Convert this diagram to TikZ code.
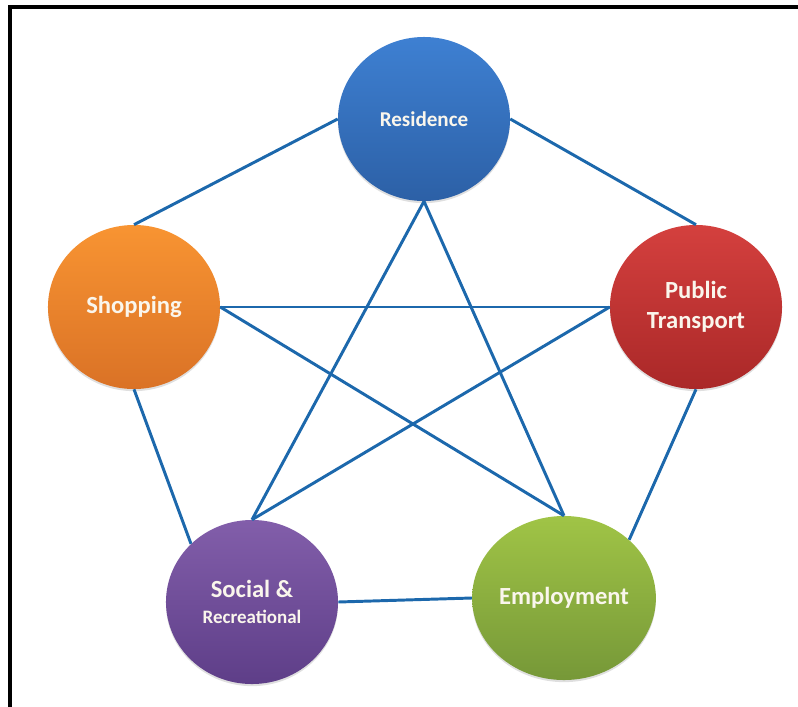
\documentclass[tikz,border=0pt]{standalone}
\usepackage{fontspec}
\setmainfont{Carlito}
\usepackage{tikz}
\usetikzlibrary{shapes.geometric}
\usetikzlibrary{shadows}

\definecolor{linkblue}{RGB}{28,104,172}
\definecolor{resA}{RGB}{62,128,210}
\definecolor{resB}{RGB}{44,96,166}
\definecolor{shopA}{RGB}{248,148,50}
\definecolor{shopB}{RGB}{218,114,38}
\definecolor{ptA}{RGB}{212,64,62}
\definecolor{ptB}{RGB}{170,40,40}
\definecolor{socA}{RGB}{130,94,170}
\definecolor{socB}{RGB}{94,62,136}
\definecolor{empA}{RGB}{160,196,70}
\definecolor{empB}{RGB}{118,152,56}
\definecolor{labelwhite}{RGB}{250,246,236}

\tikzset{
  place/.style={ellipse, minimum width=4.3cm, minimum height=4.1cm, inner sep=0,
    text=labelwhite, font=\bfseries\fontsize{17.5}{21.5}\selectfont, align=center,
    drop shadow={opacity=.25, shadow xshift=0pt, shadow yshift=-1.5pt}},
  link/.style={linkblue, line width=2.1pt}
}

\begin{document}
\begin{tikzpicture} [x=.025cm, y=-.025cm]
\useasboundingbox (0,0) rectangle (798,706);
\draw[black, line width=3pt] (10,7) rectangle (840,740);
\node[place, top color=resA, bottom color=resB, font=\bfseries\fontsize{15}{17}\selectfont] (res) at (424,119) {Residence};
\node[place, top color=shopA, bottom color=shopB] (shop) at (134,307) {Shopping};
\node[place, top color=ptA, bottom color=ptB] (pt) at (696,307) {Public\\Transport};
\node[place, top color=socA, bottom color=socB] (soc) at (252,602) {Social \&\\[-3pt]{\fontsize{13.5}{15}\selectfont Recreational}};
\node[place, top color=empA, bottom color=empB] (emp) at (564,598) {Employment};
\foreach \a/\b in {res.west/shop.north, res.east/pt.north, res.south/soc.north, res.south/emp.north,
  shop.east/pt.west, shop.east/emp.north, shop.south/soc.north west, pt.west/soc.north,
  pt.south/emp.north east, soc.east/emp.west} {
  \draw[link] (\a)--(\b);
}
\end{tikzpicture}
\end{document}
